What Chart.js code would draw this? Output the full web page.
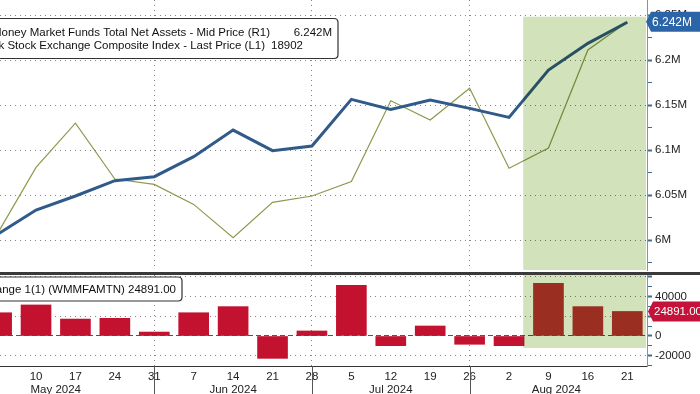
<!DOCTYPE html>
<html>
<head>
<meta charset="utf-8">
<script src="https://cdn.jsdelivr.net/npm/chart.js@4.4.1/dist/chart.umd.min.js"></script>
<style>
  html, body { margin: 0; padding: 0; background: #fff; overflow: hidden; }
  #wrap { position: relative; width: 700px; height: 394px; }
  #top { position: absolute; left: 0; top: 0; }
  #bot { position: absolute; left: 0; top: 272px; }
  #sep { position: absolute; left: 0; top: 272px; width: 700px; height: 3px; background: #3a3a3a; }
</style>
</head>
<body>
<div id="wrap">
  <canvas id="top" width="700" height="272"></canvas>
  <canvas id="bot" width="700" height="122"></canvas>
  <div id="sep"></div>
</div>
<script>
// weekly points, 3 May .. 21 Aug 2024
const dayLabels = ['3','10','17','24','31','7','14','21','28','5','12','19','26','2','9','16','21'];
const monthLabels = ['May 2024','Jun 2024','Jul 2024','Aug 2024'];
const monthLabelPos = [1.5, 6, 10, 14.2];
const monthEnds = [4, 8, 12];

const seriesNames = [
  'US Money Market Funds Total Net Assets - Mid Price (R1)',
  'New York Stock Exchange Composite Index - Last Price (L1)'
];
const changeName = 'Net Change 1(1) (WMMFAMTN)';

// R1, millions
const mmfAssets = [6.0056, 6.0333, 6.0489, 6.0659, 6.0704, 6.0926, 6.1222, 6.0993, 6.1044,
                   6.1563, 6.1452, 6.1556, 6.1463, 6.1363, 6.1889, 6.2185, 6.242];
// L1
const nyseIndex = [17837, 18175, 18396, 18117, 18090, 17990, 17824, 18000, 18032,
                   18104, 18508, 18412, 18571, 18171, 18272, 18762, 18902];
// weekly change
const mmfChange = [23600, 31500, 17200, 17900, 4000, 23600, 29800, -22700, 5100,
                   51300, -9800, 10150, -8400, -9800, 53500, 29800, 24891];

const r1Major = [6.0, 6.05, 6.1, 6.15, 6.2, 6.25];
const r1Minor = [5.975, 6.025, 6.075, 6.125, 6.175, 6.225];
const chgMajor = [-20000, 0, 20000, 40000, 60000];
const chgMinor = [-30000, -10000, 10000, 30000, 50000];
const chgLabeled = [-20000, 0, 20000, 40000];

// highlighted period (in week index units)
const shadeFrom = 13.36, shadeTo = 16.48;
const shadeTopR1 = 6.2481, shadeBottomChg = -12200;

const X_MIN = 0.086, X_MAX = 16.5;
const FONT = '"Liberation Sans", Arial, sans-serif';
const SHADE = '#d2e2ba';
const DOT = '#858585';
const AXIS = '#7c98a6';
const TICKC = '#3d6f8c';

Chart.defaults.font.family = FONT;
Chart.defaults.font.size = 11.5;
Chart.defaults.color = '#222';
Chart.defaults.animation = false;

function pts(arr) { return arr.map((v, i) => ({ x: i, y: v })); }

function noPad(s) { s.paddingTop = 0; s.paddingBottom = 0; s.paddingLeft = 0; s.paddingRight = 0; }

function xAxis(showLabels) {
  return {
    type: 'linear', min: X_MIN, max: X_MAX, offset: false,
    afterBuildTicks: s => { s.ticks = dayLabels.map((d, i) => ({ value: i })).filter(t => t.value >= X_MIN); },
    afterFit: s => { s.height = showLabels ? 28 : 0; noPad(s); },
    ticks: { display: showLabels, autoSkip: false, maxRotation: 0, padding: 4,
             font: { size: 11.5 }, color: '#222',
             callback: v => dayLabels[v] },
    grid: { drawTicks: false, lineWidth: 1, offset: false,
            color: c => (c.tick && monthEnds.includes(c.tick.value)) ? DOT : 'rgba(0,0,0,0)' },
    border: { display: showLabels, color: '#333', width: 1, dash: [1, 4] }
  };
}

function roundBox(ctx, x, y, w, h, r) {
  ctx.beginPath();
  ctx.moveTo(x + r, y);
  ctx.lineTo(x + w - r, y);
  ctx.quadraticCurveTo(x + w, y, x + w, y + r);
  ctx.lineTo(x + w, y + h - r);
  ctx.quadraticCurveTo(x + w, y + h, x + w - r, y + h);
  ctx.lineTo(x + r, y + h);
  ctx.quadraticCurveTo(x, y + h, x, y + h - r);
  ctx.lineTo(x, y + r);
  ctx.quadraticCurveTo(x, y, x + r, y);
  ctx.closePath();
}

function drawTag(ctx, tipX, yc, text, bg, size) {
  ctx.save();
  ctx.beginPath();
  ctx.moveTo(tipX, yc);
  ctx.lineTo(tipX + 5, yc - 10);
  ctx.lineTo(702, yc - 10);
  ctx.lineTo(702, yc + 10);
  ctx.lineTo(tipX + 5, yc + 10);
  ctx.closePath();
  ctx.fillStyle = bg;
  ctx.fill();
  ctx.fillStyle = '#fff';
  ctx.font = size + 'px ' + FONT;
  ctx.textAlign = 'left';
  ctx.textBaseline = 'middle';
  ctx.fillText(text, tipX + 6, yc + 0.5);
  ctx.restore();
}

function shadePlugin(yScaleId, topVal, bottomVal) {
  return {
    id: 'shade',
    afterDatasetsDraw(chart) {
      const { ctx, chartArea: a, scales } = chart;
      const x0 = scales.x.getPixelForValue(shadeFrom);
      const x1 = Math.min(scales.x.getPixelForValue(shadeTo), a.right - 1);
      const yS = scales[yScaleId];
      const y0 = topVal == null ? a.top : yS.getPixelForValue(topVal);
      const y1 = bottomVal == null ? a.bottom : yS.getPixelForValue(bottomVal);
      ctx.save();
      ctx.globalCompositeOperation = 'multiply';
      ctx.fillStyle = SHADE;
      ctx.fillRect(x0, y0, x1 - x0, y1 - y0);
      ctx.restore();
    }
  };
}

// ---------- top panel ----------
const topDecor = {
  id: 'topDecor',
  afterDraw(chart) {
    const { ctx, scales } = chart;
    ctx.save();
    roundBox(ctx, -10, 18.5, 348, 40, 4);
    ctx.fillStyle = '#fff';
    ctx.fill();
    ctx.strokeStyle = '#333';
    ctx.lineWidth = 1.2;
    ctx.stroke();
    ctx.fillStyle = '#111';
    ctx.font = '11.5px ' + FONT;
    ctx.textBaseline = 'middle';
    ctx.textAlign = 'right';
    ctx.fillText(seriesNames[0], 270, 33);
    ctx.fillText(mmfAssets[mmfAssets.length - 1] + 'M', 332, 33);
    ctx.fillText(seriesNames[1], 265, 46);
    ctx.fillText(String(nyseIndex[nyseIndex.length - 1]), 303, 46);
    ctx.restore();
    const last = mmfAssets[mmfAssets.length - 1];
    drawTag(ctx, 646, scales.y.getPixelForValue(last) - 0.5, last + 'M', '#2b65a7', 12);
  }
};

new Chart(document.getElementById('top'), {
  type: 'line',
  data: {
    datasets: [
      { data: pts(mmfAssets), yAxisID: 'y', borderColor: '#2f5a8a', borderWidth: 3,
        pointRadius: 0, tension: 0 },
      { data: pts(nyseIndex), yAxisID: 'y1', borderColor: '#8c9a4e', borderWidth: 1.2,
        pointRadius: 0, tension: 0 }
    ]
  },
  options: {
    responsive: false,
    layout: { padding: { left: 0, right: 0, top: 0, bottom: 2 } },
    plugins: { legend: { display: false }, tooltip: { enabled: false } },
    scales: {
      x: xAxis(false),
      y: {
        position: 'right', min: 5.9667, max: 6.2667,
        afterBuildTicks: s => { s.ticks = r1Major.concat(r1Minor).sort((a, b) => a - b).map(v => ({ value: v })); },
        afterFit: s => { s.width = 53; noPad(s); },
        ticks: { autoSkip: false, padding: 3, color: '#222',
                 callback: v => r1Major.includes(v) ? (+v.toFixed(3)) + 'M' : '' },
        grid: { tickLength: 5, tickColor: TICKC,
                tickWidth: c => (c.tick && r1Major.includes(c.tick.value)) ? 2 : 1,
                color: c => (c.tick && r1Major.includes(c.tick.value)) ? DOT : 'rgba(0,0,0,0)' },
        border: { display: true, color: AXIS, width: 1, dash: [1, 4] }
      },
      y1: { display: false, position: 'left', min: 17662, max: 19012 }
    }
  },
  plugins: [shadePlugin('y', shadeTopR1, null), topDecor]
});

// ---------- bottom panel ----------
const botDecor = {
  id: 'botDecor',
  afterDraw(chart) {
    const { ctx, chartArea: a, scales } = chart;
    ctx.save();
    ctx.strokeStyle = '#555';
    ctx.lineWidth = 1;
    monthEnds.forEach(i => {
      const x = Math.round(scales.x.getPixelForValue(i)) + 0.5;
      ctx.beginPath();
      ctx.moveTo(x, a.bottom);
      ctx.lineTo(x, chart.height);
      ctx.stroke();
    });
    ctx.fillStyle = '#222';
    ctx.font = '11.5px ' + FONT;
    ctx.textAlign = 'center';
    ctx.textBaseline = 'middle';
    monthLabels.forEach((m, i) => ctx.fillText(m, scales.x.getPixelForValue(monthLabelPos[i]), 118));

    roundBox(ctx, -10, 5, 192, 24, 4);
    ctx.fillStyle = '#fff';
    ctx.fill();
    ctx.strokeStyle = '#333';
    ctx.lineWidth = 1.2;
    ctx.stroke();
    ctx.fillStyle = '#111';
    ctx.font = '11.5px ' + FONT;
    ctx.textAlign = 'right';
    const last = mmfChange[mmfChange.length - 1];
    ctx.fillText(changeName + ' ' + last.toFixed(2), 176, 18);
    ctx.restore();
    drawTag(ctx, 648, scales.y.getPixelForValue(last), last.toFixed(2), '#c5123a', 11.5);
  }
};

new Chart(document.getElementById('bot'), {
  type: 'bar',
  data: {
    datasets: [{
      data: pts(mmfChange),
      backgroundColor: c => (c.raw && c.raw.x >= shadeFrom) ? '#bb332b' : '#c3122f',
      borderWidth: 0,
      barThickness: 30
    }]
  },
  options: {
    responsive: false,
    layout: { padding: { left: 0, right: 0, top: 3, bottom: 0 } },
    plugins: { legend: { display: false }, tooltip: { enabled: false } },
    scales: {
      x: xAxis(true),
      y: {
        position: 'right', min: -30450, max: 61900,
        afterBuildTicks: s => { s.ticks = chgMajor.concat(chgMinor).sort((a, b) => a - b).map(v => ({ value: v })); },
        afterFit: s => { s.width = 53; noPad(s); },
        ticks: { autoSkip: false, padding: 3, color: '#222',
                 callback: v => chgLabeled.includes(v) ? String(v) : '' },
        grid: { tickLength: 5, tickColor: TICKC,
                tickWidth: c => (c.tick && chgMajor.includes(c.tick.value)) ? 2 : 1,
                color: c => {
                  if (!c.tick || !chgMajor.includes(c.tick.value)) return 'rgba(0,0,0,0)';
                  return c.tick.value === 0 ? '#555' : DOT;
                } },
        border: { display: true, color: AXIS, width: 1,
                  dash: c => (c.tick && c.tick.value === 0) ? [5, 3] : [1, 4] }
      }
    }
  },
  plugins: [shadePlugin('y', null, shadeBottomChg), botDecor]
});
</script>
</body>
</html>
